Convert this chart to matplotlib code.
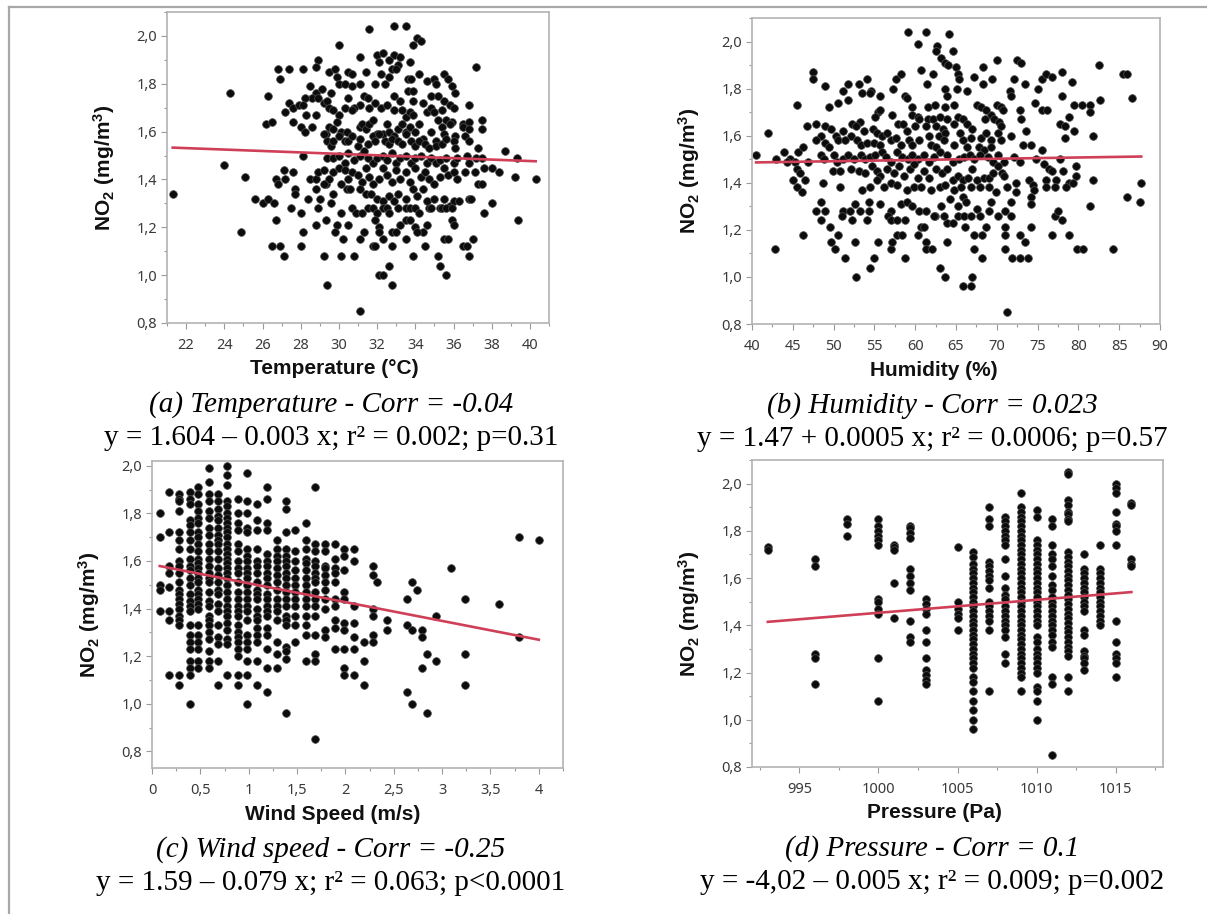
import matplotlib

matplotlib.use("Agg")

import matplotlib.pyplot as plt
import numpy as np
from matplotlib.lines import Line2D
from matplotlib.ticker import FuncFormatter, MultipleLocator

plt.rcParams["font.family"] = "Noto Sans"
plt.rcParams["mathtext.fontset"] = "custom"
plt.rcParams["mathtext.rm"] = "Liberation Sans"
plt.rcParams["mathtext.bf"] = "Liberation Sans:bold"

W, H = 1207, 914

# (a) temperature (degC) vs NO2 (mg/m3)
temp_no2 = [
    (31.6, 2.03), (32.9, 2.04), (33.5, 2.04), (34.1, 1.99), (34.3, 1.98), (33.9, 1.96), (30.0, 1.96),
    (31.1, 1.91), (37.2, 1.87), (32.0, 1.92), (32.3, 1.93), (32.9, 1.92), (33.2, 1.91), (32.1, 1.89),
    (32.6, 1.90), (33.7, 1.89), (33.1, 1.88), (32.8, 1.86), (33.0, 1.86), (28.9, 1.90), (28.8, 1.87),
    (26.8, 1.86), (27.4, 1.86), (28.1, 1.86), (26.9, 1.82), (29.5, 1.85), (29.8, 1.86), (30.5, 1.85),
    (30.7, 1.84), (31.4, 1.85), (32.2, 1.84), (34.2, 1.84), (35.5, 1.84), (35.7, 1.82), (29.9, 1.83),
    (30.0, 1.80), (31.9, 1.80), (32.4, 1.80), (32.6, 1.83), (33.6, 1.82), (33.8, 1.82), (34.6, 1.81),
    (35.0, 1.82), (35.1, 1.80), (35.9, 1.79), (36.1, 1.76), (28.5, 1.79), (28.8, 1.76), (29.1, 1.78),
    (28.6, 1.74), (28.9, 1.74), (29.2, 1.72), (29.6, 1.76), (30.3, 1.80), (30.7, 1.79), (31.1, 1.80),
    (31.3, 1.75), (31.5, 1.74), (31.6, 1.70), (31.1, 1.71), (30.8, 1.70), (32.9, 1.75), (33.2, 1.73),
    (33.6, 1.77), (33.9, 1.77), (33.9, 1.73), (34.8, 1.75), (35.2, 1.75), (35.5, 1.73), (35.8, 1.71),
    (26.3, 1.75), (24.3, 1.76), (27.4, 1.72), (27.2, 1.68), (27.6, 1.70), (27.9, 1.71), (28.2, 1.74),
    (28.1, 1.71), (28.3, 1.67), (29.4, 1.73), (29.5, 1.70), (29.7, 1.69), (30.0, 1.67), (30.3, 1.70),
    (30.5, 1.74), (30.7, 1.69), (31.9, 1.72), (32.2, 1.70), (32.5, 1.71), (32.9, 1.69), (33.3, 1.69),
    (33.5, 1.66), (33.7, 1.68), (33.9, 1.67), (34.4, 1.72), (34.6, 1.68), (34.8, 1.70), (35.0, 1.68),
    (35.2, 1.65), (35.4, 1.69), (35.6, 1.65), (35.9, 1.64), (36.0, 1.70), (36.8, 1.71), (37.5, 1.65),
    (36.5, 1.63), (36.8, 1.64), (26.2, 1.63), (26.5, 1.64), (27.6, 1.64), (28.0, 1.62), (28.2, 1.60),
    (28.6, 1.62), (28.8, 1.67), (29.3, 1.59), (29.5, 1.62), (29.7, 1.61), (29.9, 1.64), (30.1, 1.60),
    (30.4, 1.60), (31.1, 1.62), (31.2, 1.63), (31.4, 1.61), (31.6, 1.63), (31.8, 1.65), (32.0, 1.59),
    (32.3, 1.59), (32.5, 1.63), (32.6, 1.60), (32.9, 1.58), (33.1, 1.61), (33.3, 1.63), (33.5, 1.60),
    (33.7, 1.62), (34.0, 1.60), (34.2, 1.63), (34.4, 1.57), (34.8, 1.60), (35.1, 1.56), (35.4, 1.62),
    (35.5, 1.59), (35.8, 1.63), (36.1, 1.58), (36.5, 1.62), (36.8, 1.61), (37.5, 1.61), (29.2, 1.59),
    (29.4, 1.56), (29.6, 1.54), (29.7, 1.56), (30.0, 1.58), (30.3, 1.56), (30.5, 1.56), (30.7, 1.58),
    (31.0, 1.54), (31.1, 1.57), (31.5, 1.55), (31.8, 1.58), (31.9, 1.56), (32.1, 1.59), (32.4, 1.56),
    (32.6, 1.55), (32.8, 1.57), (33.1, 1.56), (33.3, 1.55), (33.5, 1.59), (33.8, 1.56), (34.0, 1.54),
    (34.2, 1.56), (34.5, 1.55), (34.7, 1.53), (35.1, 1.54), (35.4, 1.55), (35.6, 1.57), (36.0, 1.56),
    (36.1, 1.53), (36.6, 1.58), (36.8, 1.56), (37.3, 1.53), (38.7, 1.52), (39.3, 1.49), (28.1, 1.50),
    (29.4, 1.49), (29.7, 1.49), (30.0, 1.50), (30.3, 1.47), (30.5, 1.51), (30.8, 1.48), (31.1, 1.50),
    (31.3, 1.52), (31.5, 1.49), (31.8, 1.47), (32.0, 1.49), (32.3, 1.50), (32.5, 1.48), (32.8, 1.51),
    (33.0, 1.47), (33.2, 1.49), (33.5, 1.50), (33.8, 1.47), (34.0, 1.49), (34.3, 1.50), (34.6, 1.47),
    (34.8, 1.49), (35.1, 1.47), (35.3, 1.48), (35.6, 1.49), (36.0, 1.47), (36.2, 1.49), (36.7, 1.50),
    (36.8, 1.47), (37.2, 1.49), (37.5, 1.49), (37.6, 1.45), (38.0, 1.45), (38.4, 1.43), (39.2, 1.41),
    (40.3, 1.40), (24.0, 1.46), (25.1, 1.41), (27.1, 1.44), (27.6, 1.43), (26.7, 1.40), (26.8, 1.38),
    (27.2, 1.40), (28.5, 1.40), (28.8, 1.40), (28.9, 1.43), (29.2, 1.44), (29.3, 1.38), (29.5, 1.40),
    (29.7, 1.43), (30.0, 1.45), (30.3, 1.44), (30.5, 1.40), (30.7, 1.43), (31.0, 1.42), (31.2, 1.39),
    (31.4, 1.45), (31.6, 1.41), (31.8, 1.38), (32.1, 1.40), (32.3, 1.45), (32.5, 1.42), (32.8, 1.39),
    (33.0, 1.44), (33.2, 1.40), (33.5, 1.43), (33.7, 1.39), (34.0, 1.45), (34.3, 1.41), (34.5, 1.43),
    (34.7, 1.40), (35.0, 1.38), (35.3, 1.41), (35.5, 1.45), (35.7, 1.42), (36.0, 1.43), (36.2, 1.40),
    (36.6, 1.43), (37.1, 1.43), (37.3, 1.38), (37.5, 1.38), (27.7, 1.36), (27.7, 1.34), (28.4, 1.32),
    (29.0, 1.32), (28.8, 1.36), (29.2, 1.38), (29.7, 1.34), (30.1, 1.38), (30.4, 1.36), (30.6, 1.36),
    (31.1, 1.36), (31.4, 1.34), (31.7, 1.34), (32.0, 1.32), (32.3, 1.31), (32.6, 1.33), (32.9, 1.31),
    (33.1, 1.34), (33.5, 1.32), (33.9, 1.36), (34.1, 1.33), (34.4, 1.36), (34.6, 1.31), (34.7, 1.28),
    (35.0, 1.32), (35.3, 1.28), (35.5, 1.32), (35.8, 1.29), (36.0, 1.31), (36.3, 1.31), (36.8, 1.32),
    (36.9, 1.32), (38.0, 1.30), (25.6, 1.32), (26.0, 1.30), (26.3, 1.32), (26.6, 1.30), (27.5, 1.28),
    (28.0, 1.26), (28.9, 1.28), (29.6, 1.30), (30.7, 1.28), (30.9, 1.26), (31.2, 1.26), (31.5, 1.28),
    (31.8, 1.28), (32.0, 1.26), (32.3, 1.28), (32.5, 1.28), (32.6, 1.26), (33.1, 1.28), (33.5, 1.28),
    (33.7, 1.28), (34.0, 1.28), (34.2, 1.26), (34.8, 1.28), (35.4, 1.28), (35.6, 1.28), (35.9, 1.28),
    (37.6, 1.26), (26.7, 1.23), (29.3, 1.23), (30.1, 1.26), (30.5, 1.21), (28.8, 1.21), (29.9, 1.21),
    (31.3, 1.18), (31.9, 1.23), (32.1, 1.20), (32.8, 1.18), (33.0, 1.18), (33.2, 1.21), (33.5, 1.23),
    (33.7, 1.23), (34.0, 1.20), (34.4, 1.18), (34.6, 1.21), (35.9, 1.23), (36.0, 1.21), (24.9, 1.18),
    (28.1, 1.18), (29.8, 1.18), (30.2, 1.15), (31.1, 1.15), (32.1, 1.18), (32.3, 1.15), (33.5, 1.15),
    (34.1, 1.18), (35.5, 1.15), (35.7, 1.15), (37.0, 1.15), (26.5, 1.12), (26.9, 1.12), (27.1, 1.08),
    (28.0, 1.12), (29.2, 1.08), (30.1, 1.08), (30.8, 1.08), (31.8, 1.12), (31.9, 1.12), (32.8, 1.12),
    (32.6, 1.04), (33.9, 1.08), (34.5, 1.12), (35.2, 1.08), (35.3, 1.04), (35.6, 1.00), (36.5, 1.12),
    (36.7, 1.12), (36.8, 1.08), (39.4, 1.23), (32.1, 1.00), (32.3, 1.00), (29.4, 0.96), (32.8, 0.96),
    (31.1, 0.85), (21.3, 1.34),
]

# (b) humidity (%) vs NO2
hum_no2 = [
    (59.1, 2.04), (61.3, 2.04), (64.1, 2.03), (60.4, 1.99), (62.7, 1.98), (64.6, 1.96), (62.6, 1.96),
    (63.2, 1.93), (63.7, 1.91), (64.0, 1.90), (65.0, 1.89), (65.2, 1.86), (65.4, 1.84), (60.7, 1.88),
    (62.2, 1.86), (61.4, 1.82), (66.3, 1.79), (65.1, 1.80), (70.0, 1.92), (72.5, 1.92), (73.0, 1.91),
    (82.5, 1.90), (85.5, 1.86), (85.9, 1.86), (86.6, 1.76), (68.3, 1.89), (69.4, 1.84), (68.3, 1.82),
    (72.1, 1.84), (73.4, 1.82), (67.2, 1.85), (75.5, 1.84), (76.0, 1.86), (76.8, 1.85), (78.0, 1.87),
    (79.2, 1.83), (75.0, 1.80), (71.6, 1.79), (71.7, 1.77), (47.5, 1.87), (47.5, 1.84), (49.0, 1.81),
    (51.8, 1.82), (53.1, 1.82), (54.1, 1.84), (53.5, 1.78), (54.6, 1.79), (54.4, 1.78), (55.7, 1.77),
    (57.6, 1.84), (58.2, 1.86), (57.3, 1.80), (58.8, 1.77), (59.0, 1.76), (51.2, 1.79), (51.8, 1.75),
    (49.4, 1.72), (50.5, 1.74), (45.5, 1.73), (41.9, 1.61), (40.5, 1.52), (42.8, 1.12), (59.6, 1.72),
    (61.6, 1.72), (62.4, 1.73), (63.7, 1.80), (63.9, 1.77), (63.7, 1.72), (64.8, 1.73), (67.6, 1.73),
    (68.1, 1.72), (70.0, 1.73), (70.5, 1.72), (70.8, 1.71), (69.3, 1.69), (68.7, 1.71), (72.9, 1.71),
    (74.7, 1.74), (75.5, 1.71), (76.2, 1.71), (78.0, 1.77), (79.4, 1.73), (80.5, 1.73), (81.4, 1.73),
    (81.4, 1.70), (82.7, 1.75), (78.9, 1.68), (77.7, 1.65), (78.4, 1.64), (78.4, 1.59), (79.5, 1.62),
    (81.8, 1.60), (57.2, 1.69), (55.5, 1.70), (55.1, 1.68), (55.7, 1.71), (59.6, 1.69), (60.3, 1.68),
    (60.5, 1.67), (61.6, 1.67), (62.2, 1.67), (63.1, 1.68), (63.9, 1.67), (65.2, 1.68), (65.8, 1.67),
    (66.3, 1.65), (66.9, 1.63), (68.5, 1.67), (69.7, 1.67), (70.3, 1.66), (70.5, 1.64), (70.1, 1.61),
    (70.5, 1.58), (71.7, 1.60), (73.0, 1.67), (73.6, 1.62), (73.2, 1.56), (74.2, 1.56), (46.7, 1.64),
    (47.8, 1.65), (48.9, 1.64), (49.7, 1.63), (52.2, 1.65), (53.2, 1.66), (52.7, 1.64), (51.2, 1.62),
    (52.1, 1.60), (52.9, 1.58), (53.7, 1.62), (54.8, 1.63), (55.3, 1.61), (55.9, 1.60), (56.6, 1.61),
    (57.9, 1.65), (58.5, 1.65), (59.0, 1.62), (60.0, 1.64), (61.3, 1.64), (62.5, 1.64), (63.4, 1.63),
    (64.7, 1.65), (61.7, 1.60), (62.9, 1.60), (63.7, 1.61), (65.5, 1.61), (66.8, 1.59), (68.1, 1.59),
    (68.7, 1.61), (69.3, 1.58), (48.5, 1.60), (47.8, 1.58), (49.0, 1.57), (49.4, 1.55), (50.3, 1.60),
    (50.6, 1.58), (51.4, 1.58), (53.3, 1.56), (54.1, 1.57), (55.0, 1.57), (55.7, 1.56), (57.0, 1.58),
    (57.7, 1.59), (58.2, 1.56), (59.2, 1.58), (59.6, 1.56), (60.5, 1.58), (61.9, 1.56), (62.5, 1.55),
    (63.5, 1.58), (64.8, 1.56), (65.8, 1.58), (66.3, 1.55), (67.8, 1.55), (68.4, 1.54), (69.3, 1.55),
    (75.5, 1.54), (43.9, 1.53), (44.7, 1.50), (43.0, 1.50), (44.3, 1.49), (45.3, 1.49), (45.6, 1.53),
    (46.3, 1.55), (46.9, 1.49), (48.4, 1.52), (48.8, 1.50), (50.0, 1.52), (50.4, 1.49), (51.2, 1.50),
    (51.8, 1.52), (52.5, 1.50), (53.3, 1.52), (53.9, 1.50), (54.5, 1.51), (55.1, 1.52), (55.9, 1.53),
    (56.4, 1.51), (57.0, 1.49), (57.8, 1.53), (58.4, 1.51), (59.1, 1.50), (59.6, 1.52), (60.3, 1.50),
    (61.1, 1.52), (61.7, 1.49), (62.3, 1.51), (63.1, 1.53), (63.9, 1.52), (64.6, 1.49), (65.4, 1.50),
    (66.0, 1.51), (66.7, 1.52), (67.2, 1.50), (68.0, 1.52), (68.9, 1.51), (69.5, 1.49), (70.1, 1.52),
    (70.9, 1.49), (72.1, 1.51), (72.9, 1.49), (74.8, 1.50), (75.8, 1.48), (77.7, 1.50), (76.4, 1.46),
    (76.8, 1.45), (45.5, 1.46), (45.9, 1.44), (45.0, 1.41), (46.5, 1.41), (45.5, 1.38), (46.1, 1.36),
    (49.9, 1.45), (50.8, 1.45), (52.1, 1.46), (53.1, 1.45), (53.9, 1.44), (54.7, 1.47), (55.3, 1.45),
    (55.7, 1.43), (56.6, 1.46), (57.4, 1.44), (58.0, 1.47), (58.6, 1.43), (59.4, 1.46), (59.8, 1.48),
    (60.4, 1.42), (61.1, 1.45), (61.7, 1.42), (62.5, 1.46), (63.3, 1.44), (63.9, 1.46), (64.6, 1.41),
    (65.2, 1.43), (65.8, 1.41), (66.5, 1.42), (67.0, 1.46), (67.6, 1.41), (68.4, 1.42), (69.1, 1.42),
    (69.5, 1.44), (70.1, 1.47), (70.6, 1.44), (70.9, 1.43), (72.3, 1.40), (74.0, 1.41), (74.4, 1.39),
    (74.6, 1.37), (76.0, 1.41), (77.3, 1.41), (78.1, 1.45), (78.9, 1.40), (79.7, 1.47), (79.7, 1.43),
    (81.8, 1.41), (87.7, 1.40), (48.7, 1.40), (50.8, 1.38), (53.5, 1.37), (54.5, 1.38), (55.3, 1.41),
    (56.2, 1.38), (57.0, 1.40), (57.8, 1.39), (59.0, 1.37), (59.8, 1.38), (60.7, 1.38), (61.9, 1.37),
    (63.1, 1.38), (63.7, 1.39), (64.8, 1.37), (65.6, 1.38), (66.8, 1.38), (68.0, 1.38), (69.0, 1.38),
    (69.9, 1.36), (71.3, 1.38), (72.3, 1.36), (74.2, 1.34), (76.0, 1.38), (77.1, 1.38), (78.5, 1.38),
    (79.3, 1.40), (48.4, 1.32), (47.9, 1.28), (48.9, 1.28), (48.5, 1.24), (51.2, 1.28), (52.0, 1.28),
    (52.6, 1.31), (53.2, 1.28), (54.3, 1.32), (54.3, 1.28), (54.1, 1.24), (55.7, 1.31), (57.0, 1.28),
    (58.2, 1.31), (59.0, 1.32), (59.6, 1.30), (60.5, 1.28), (61.3, 1.28), (62.4, 1.26), (63.2, 1.30),
    (63.9, 1.23), (64.6, 1.23), (64.3, 1.33), (65.2, 1.30), (65.8, 1.34), (66.2, 1.32), (65.2, 1.26),
    (66.0, 1.26), (66.8, 1.26), (67.6, 1.29), (68.0, 1.26), (69.1, 1.28), (69.3, 1.32), (70.2, 1.26),
    (71.0, 1.28), (71.7, 1.32), (71.7, 1.26), (74.2, 1.31), (77.1, 1.26), (77.5, 1.28), (78.0, 1.24),
    (81.4, 1.30), (86.0, 1.34), (87.6, 1.32), (51.0, 1.26), (52.3, 1.24), (56.7, 1.26), (57.0, 1.24),
    (57.8, 1.24), (58.8, 1.24), (62.3, 1.26), (63.5, 1.26), (46.2, 1.18), (49.6, 1.21), (50.5, 1.18),
    (49.7, 1.15), (50.2, 1.12), (51.4, 1.08), (52.6, 1.15), (55.4, 1.15), (54.9, 1.08), (57.0, 1.12),
    (57.2, 1.15), (57.8, 1.18), (58.4, 1.18), (58.7, 1.08), (60.3, 1.18), (60.7, 1.21), (61.1, 1.21),
    (61.3, 1.15), (61.3, 1.12), (62.0, 1.12), (63.9, 1.15), (66.1, 1.21), (67.2, 1.18), (68.2, 1.18),
    (68.7, 1.21), (67.2, 1.12), (68.2, 1.08), (71.0, 1.21), (71.0, 1.18), (71.0, 1.12), (71.9, 1.08),
    (72.8, 1.18), (73.4, 1.15), (72.8, 1.08), (73.8, 1.08), (74.2, 1.21), (76.8, 1.18), (78.9, 1.18),
    (79.8, 1.12), (80.6, 1.12), (84.3, 1.12), (54.4, 1.04), (52.8, 1.00), (63.1, 1.04), (63.7, 1.00),
    (65.9, 0.96), (66.8, 0.96), (67.0, 1.00), (71.3, 0.85),
]

# (c) wind speed columns (m/s) and the NO2 values stacked in each column
wind_cols = [0.08, 0.18, 0.28, 0.39, 0.48, 0.59, 0.68, 0.78, 0.89, 0.98, 1.09, 1.19, 1.29, 1.39,
             1.48, 1.59, 1.69, 1.79, 1.89, 1.99, 2.09, 2.19, 2.29, 2.33, 2.43, 2.64, 2.69, 2.74,
             2.79, 2.84, 2.94, 3.09, 3.24, 3.59, 3.79, 4.0]
wind_no2 = [
    [1.80, 1.70, 1.50, 1.48, 1.39],
    [1.89, 1.72, 1.58, 1.55, 1.49, 1.39, 1.35, 1.12],
    [1.88, 1.86, 1.85, 1.81, 1.72, 1.69, 1.65, 1.60, 1.58, 1.55, 1.51, 1.48, 1.46, 1.44, 1.42, 1.40,
     1.37, 1.35, 1.33, 1.12, 1.08],
    [1.89, 1.86, 1.84, 1.77, 1.75, 1.72, 1.69, 1.65, 1.61, 1.58, 1.56, 1.53, 1.50, 1.46, 1.43, 1.41,
     1.39, 1.33, 1.29, 1.26, 1.23, 1.18, 1.15, 1.12, 1.00],
    [1.91, 1.88, 1.84, 1.81, 1.78, 1.76, 1.72, 1.70, 1.67, 1.64, 1.61, 1.59, 1.57, 1.55, 1.53, 1.51,
     1.48, 1.46, 1.44, 1.42, 1.40, 1.33, 1.29, 1.26, 1.23, 1.18, 1.15],
    [1.99, 1.93, 1.88, 1.85, 1.81, 1.78, 1.74, 1.71, 1.67, 1.64, 1.61, 1.58, 1.55, 1.53, 1.51, 1.47,
     1.43, 1.41, 1.37, 1.35, 1.33, 1.30, 1.27, 1.22, 1.18, 1.15],
    [1.88, 1.85, 1.82, 1.79, 1.77, 1.74, 1.71, 1.69, 1.67, 1.64, 1.61, 1.57, 1.54, 1.51, 1.48, 1.46,
     1.42, 1.39, 1.33, 1.28, 1.25, 1.18, 1.08],
    [2.00, 1.96, 1.92, 1.85, 1.83, 1.80, 1.78, 1.76, 1.74, 1.72, 1.70, 1.67, 1.65, 1.63, 1.61, 1.59,
     1.57, 1.55, 1.53, 1.50, 1.47, 1.44, 1.41, 1.39, 1.37, 1.34, 1.31, 1.27, 1.25, 1.12],
    [1.86, 1.80, 1.76, 1.73, 1.67, 1.64, 1.60, 1.57, 1.55, 1.51, 1.47, 1.44, 1.41, 1.39, 1.37, 1.33,
     1.30, 1.28, 1.26, 1.23, 1.20, 1.12, 1.08],
    [1.97, 1.85, 1.80, 1.74, 1.72, 1.65, 1.62, 1.60, 1.57, 1.55, 1.53, 1.50, 1.47, 1.44, 1.41, 1.39,
     1.35, 1.29, 1.26, 1.23, 1.18, 1.12, 1.00],
    [1.84, 1.77, 1.73, 1.65, 1.60, 1.58, 1.55, 1.51, 1.48, 1.46, 1.44, 1.40, 1.37, 1.35, 1.32, 1.29,
     1.26, 1.18, 1.08],
    [1.91, 1.86, 1.76, 1.73, 1.63, 1.60, 1.58, 1.55, 1.53, 1.50, 1.46, 1.44, 1.41, 1.39, 1.37, 1.32,
     1.29, 1.23, 1.15, 1.05],
    [1.69, 1.65, 1.62, 1.60, 1.57, 1.54, 1.51, 1.48, 1.44, 1.41, 1.39, 1.35, 1.26, 1.21, 1.15],
    [1.85, 1.82, 1.72, 1.65, 1.62, 1.60, 1.58, 1.55, 1.53, 1.50, 1.47, 1.44, 1.41, 1.37, 1.35, 1.33,
     1.24, 1.22, 1.19, 0.96],
    [1.73, 1.64, 1.60, 1.56, 1.53, 1.50, 1.47, 1.44, 1.41, 1.37, 1.33, 1.26],
    [1.76, 1.69, 1.65, 1.61, 1.59, 1.56, 1.53, 1.50, 1.47, 1.44, 1.41, 1.37, 1.33, 1.29, 1.18],
    [1.91, 1.67, 1.64, 1.60, 1.58, 1.55, 1.53, 1.51, 1.47, 1.44, 1.41, 1.37, 1.29, 1.21, 1.18, 0.85],
    [1.67, 1.64, 1.58, 1.57, 1.54, 1.51, 1.48, 1.44, 1.40, 1.31, 1.28],
    [1.67, 1.61, 1.57, 1.55, 1.51, 1.44, 1.41, 1.35, 1.32, 1.23],
    [1.65, 1.62, 1.56, 1.47, 1.44, 1.34, 1.31, 1.23, 1.15, 1.12],
    [1.65, 1.60, 1.41, 1.34, 1.28, 1.23, 1.12],
    [1.26, 1.18, 1.08],
    [1.58, 1.54, 1.40, 1.37, 1.29, 1.26],
    [1.51],
    [1.35, 1.31],
    [1.44, 1.33, 1.05],
    [1.51, 1.31, 1.00],
    [1.48],
    [1.31, 1.28, 1.15],
    [1.21, 0.96],
    [1.37, 1.18],
    [1.57],
    [1.44, 1.21, 1.08],
    [1.42],
    [1.70, 1.28],
    [1.69],
]

# (d) pressure columns and NO2 values in each column
pres_cols = [993, 996, 998, 1000, 1001, 1002, 1003, 1005, 1006, 1007, 1008, 1009, 1010,
             1011, 1012, 1013, 1014, 1015, 1016]
pres_no2 = [
    [1.73, 1.72],
    [1.68, 1.65, 1.28, 1.26, 1.15],
    [1.85, 1.83, 1.78],
    [1.85, 1.82, 1.80, 1.78, 1.76, 1.74, 1.51, 1.50, 1.47, 1.45, 1.26, 1.08],
    [1.74, 1.73, 1.72, 1.58, 1.43],
    [1.82, 1.81, 1.79, 1.77, 1.64, 1.61, 1.58, 1.55, 1.42, 1.35, 1.33],
    [1.51, 1.49, 1.47, 1.45, 1.38, 1.33, 1.26, 1.21, 1.19, 1.17, 1.15],
    [1.73, 1.50, 1.47, 1.45, 1.43, 1.38],
    [1.71, 1.69, 1.66, 1.64, 1.62, 1.60, 1.58, 1.56, 1.54, 1.52, 1.50, 1.48, 1.46, 1.44, 1.42, 1.40,
     1.38, 1.36, 1.34, 1.32, 1.30, 1.28, 1.26, 1.24, 1.22, 1.18, 1.16, 1.12, 1.08, 1.04, 1.00, 0.96],
    [1.90, 1.85, 1.82, 1.67, 1.65, 1.63, 1.61, 1.59, 1.56, 1.50, 1.48, 1.46, 1.44, 1.42, 1.38, 1.12],
    [1.86, 1.84, 1.82, 1.80, 1.78, 1.76, 1.74, 1.68, 1.61, 1.56, 1.53, 1.51, 1.48, 1.46, 1.44, 1.42,
     1.40, 1.38, 1.35, 1.28, 1.24],
    [1.96, 1.90, 1.88, 1.86, 1.84, 1.82, 1.80, 1.78, 1.76, 1.74, 1.72, 1.70, 1.68, 1.66, 1.64, 1.62,
     1.60, 1.58, 1.56, 1.54, 1.52, 1.50, 1.48, 1.46, 1.44, 1.42, 1.40, 1.38, 1.36, 1.34, 1.32, 1.30,
     1.28, 1.26, 1.24, 1.22, 1.20, 1.18, 1.12],
    [1.89, 1.86, 1.76, 1.74, 1.72, 1.70, 1.68, 1.66, 1.64, 1.62, 1.60, 1.58, 1.56, 1.54, 1.52, 1.50,
     1.48, 1.46, 1.44, 1.42, 1.40, 1.35, 1.33, 1.30, 1.28, 1.26, 1.24, 1.22, 1.20, 1.14, 1.12, 1.08, 1.00],
    [1.85, 1.82, 1.74, 1.70, 1.68, 1.65, 1.61, 1.57, 1.55, 1.52, 1.50, 1.48, 1.46, 1.44, 1.42, 1.40,
     1.38, 1.36, 1.33, 1.31, 1.18, 1.15, 0.85],
    [2.05, 2.04, 1.93, 1.91, 1.88, 1.87, 1.85, 1.84, 1.71, 1.69, 1.67, 1.65, 1.63, 1.61, 1.59, 1.57,
     1.55, 1.53, 1.51, 1.49, 1.47, 1.45, 1.43, 1.41, 1.39, 1.37, 1.35, 1.33, 1.31, 1.29, 1.27, 1.18, 1.12],
    [1.70, 1.64, 1.62, 1.60, 1.58, 1.56, 1.54, 1.52, 1.50, 1.48, 1.46, 1.38, 1.36, 1.29, 1.27, 1.26,
     1.24, 1.21],
    [1.74, 1.64, 1.62, 1.60, 1.58, 1.56, 1.54, 1.52, 1.50, 1.48, 1.46, 1.44, 1.42, 1.40],
    [2.00, 1.98, 1.96, 1.88, 1.83, 1.82, 1.80, 1.74, 1.42, 1.33, 1.28, 1.26, 1.24, 1.18],
    [1.92, 1.91, 1.68, 1.66, 1.65],
]

# fitted lines as drawn (intercept, slope)
fit_temp = (1.597, -0.003)
fit_hum = (1.465, 0.00053)
fit_wind = (1.585, -0.079)
fit_pres = (-4.027, 0.00548)

x_labels = ["Temperature (\u00b0C)", "Humidity (%)", "Wind Speed (m/s)", "Pressure (Pa)"]
captions = [
    "(a) Temperature - Corr = -0.04",
    "(b) Humidity - Corr = 0.023",
    "(c) Wind speed - Corr = -0.25",
    "(d) Pressure - Corr = 0.1",
]
equations = [
    "y = 1.604 \u2013 0.003 x; r\u00b2 = 0.002; p=0.31",
    "y = 1.47 + 0.0005 x; r\u00b2 = 0.0006; p=0.57",
    "y = 1.59 \u2013 0.079 x; r\u00b2 = 0.063; p<0.0001",
    "y = -4,02 \u2013 0.005 x; r\u00b2 = 0.009; p=0.002",
]

LINE_RED = "#cf4058"
FRAME = "#b3b3b3"


def comma(v, _pos):
    return f"{v:g}".replace(".", ",")


def comma1(v, _pos):
    return f"{v:.1f}".replace(".", ",")


def add_panel(fig, box, label_cx, xs, ys, fit, xlim, ylim, xmajor, xminor, xlabel):
    """box is (left, top, right, bottom) in pixels; label_cx is the x-label centre."""
    l, t, r, b = box
    ax = fig.add_axes([l / W, 1 - b / H, (r - l) / W, (b - t) / H])
    xs = np.asarray(xs)
    ys = np.asarray(ys)
    ax.scatter(xs, ys, s=31, c="#0c0c0c", edgecolors="#505050", linewidths=0.5, zorder=2)
    xx = np.array([xs.min(), xs.max()])
    ax.plot(xx, fit[0] + fit[1] * xx, color=LINE_RED, lw=1.9, zorder=3)

    ax.set_xlim(*xlim)
    ax.set_ylim(*ylim)
    ax.xaxis.set_major_locator(MultipleLocator(xmajor))
    ax.xaxis.set_minor_locator(MultipleLocator(xminor))
    ax.yaxis.set_major_locator(MultipleLocator(0.2))
    ax.yaxis.set_minor_locator(MultipleLocator(0.1))
    ax.xaxis.set_major_formatter(FuncFormatter(comma))
    ax.yaxis.set_major_formatter(FuncFormatter(comma1))
    ax.tick_params(which="both", direction="out", color="#9a9a9a", width=0.8,
                   labelsize=10.5, labelcolor="#3a3a3a")
    ax.tick_params(axis="x", which="major", length=4, pad=7)
    ax.tick_params(axis="y", which="major", length=4, pad=3)
    ax.tick_params(which="minor", length=2.5)
    for sp in ax.spines.values():
        sp.set_color(FRAME)
        sp.set_linewidth(1.2)

    ax.set_xlabel(xlabel, family="Liberation Sans", weight="bold", size=15, color="#111111",
                  va="center")
    ax.xaxis.set_label_coords((label_cx - l) / (r - l), -46 / (b - t), transform=ax.transAxes)
    ax.set_ylabel(r"$\mathbf{NO_2\ (mg/m^3)}$", size=15, color="#111111")
    ax.yaxis.set_label_coords(-50 / (r - l), 0.5, transform=ax.transAxes)
    return ax


def flatten(cols, vals):
    xs, ys = [], []
    for c, v in zip(cols, vals):
        xs.extend([c] * len(v))
        ys.extend(v)
    return xs, ys


fig = plt.figure(figsize=(W / 100, H / 100), dpi=100)
fig.patch.set_facecolor("white")

ta = np.array(temp_no2).T
hb = np.array(hum_no2).T
wx, wy = flatten(wind_cols, wind_no2)
px, py = flatten(pres_cols, pres_no2)

add_panel(fig, (167, 12, 549, 323), 334, ta[0], ta[1], fit_temp, (21, 41), (0.8, 2.1), 2, 1,
          x_labels[0])
add_panel(fig, (752, 18, 1160, 324), 934, hb[0], hb[1], fit_hum, (40, 90), (0.8, 2.1), 5, 2.5,
          x_labels[1])
add_panel(fig, (152, 461, 563, 768), 333, wx, wy, fit_wind, (0, 4.25), (0.73, 2.02), 0.5, 0.25,
          x_labels[2])
add_panel(fig, (752, 460, 1163, 767), 934, px, py, fit_pres, (992, 1018), (0.8, 2.1), 5, 2.5,
          x_labels[3])

# captions under each panel
cap_pos = [(331, 405, 438), (932, 406, 439), (331, 850, 883), (932, 849, 882)]
for (cx, cy1, cy2), cap, eq in zip(cap_pos, captions, equations):
    fig.text(cx / W, 1 - cy1 / H, cap, ha="center", va="center", family="Liberation Serif",
             style="italic", size=21, color="black")
    fig.text(cx / W, 1 - cy2 / H, eq, ha="center", va="center", family="Liberation Serif",
             size=21, color="black")

# table border of the source document
fig.add_artist(Line2D([9 / W, 1], [1 - 7 / H, 1 - 7 / H], transform=fig.transFigure,
                      color="#a8a8a8", lw=1.6))
fig.add_artist(Line2D([9 / W, 9 / W], [0, 1 - 7 / H], transform=fig.transFigure,
                      color="#a8a8a8", lw=1.6))

fig.savefig("out.png", dpi=100, facecolor="white")
